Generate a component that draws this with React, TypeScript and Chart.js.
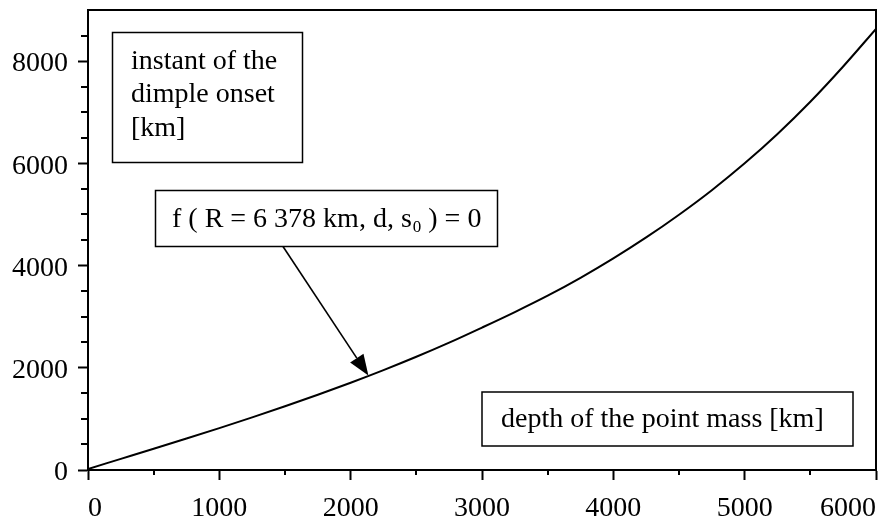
import React, { useEffect, useRef } from "react";
import { Chart, registerables } from "chart.js";

Chart.register(...registerables);

// ---- data ----
const depthKm = [0, 250, 500, 750, 1000, 1250, 1500, 1750, 2000, 2250, 2500, 2750, 3000, 3250, 3500, 3750, 4000, 4250, 4500, 4750, 5000, 5250, 5500, 5750, 6000];
const onsetKm = [20, 218, 416, 616, 820, 1030, 1247, 1472, 1707, 1954, 2215, 2492, 2787, 3090, 3410, 3760, 4140, 4550, 4995, 5475, 6000, 6575, 7205, 7895, 8630];

const xMin = 0;
const xMax = 6000;
const xStep = 500;
const xLabelEvery = 1000;
const yMin = 0;
const yMax = 9000;
const yStep = 500;
const yLabelEvery = 2000;

const yTitleLines = ["instant of the", "dimple onset", "[km]"];
const xTitle = "depth of the point mass [km]";
const curveLabelMain = "f ( R = 6 378 km, d, s";
const curveLabelSub = "0";
const curveLabelTail = " ) = 0";
const arrowTarget = { x: 2135, y: 1847 };

const FONT = "Liberation Serif, 'Times New Roman', serif";

const decorPlugin = {
  id: "decor",
  afterDraw(chart: any) {
    const { ctx, chartArea, scales } = chart;
    const xs = scales.x;
    const ys = scales.y;
    ctx.save();
    ctx.strokeStyle = "#000";
    ctx.fillStyle = "#000";

    // top and right frame
    ctx.lineWidth = 2;
    ctx.beginPath();
    ctx.moveTo(chartArea.left, chartArea.top);
    ctx.lineTo(chartArea.right, chartArea.top);
    ctx.lineTo(chartArea.right, chartArea.bottom);
    ctx.stroke();

    // minor ticks
    ctx.lineWidth = 2;
    ctx.beginPath();
    for (let v = xMin; v <= xMax; v += xStep) {
      if (v % xLabelEvery === 0) continue;
      const px = Math.round(xs.getPixelForValue(v));
      ctx.moveTo(px, chartArea.bottom);
      ctx.lineTo(px, chartArea.bottom + 5);
    }
    for (let v = yMin; v <= yMax; v += yStep) {
      if (v % yLabelEvery === 0 || v === yMax) continue;
      const py = Math.round(ys.getPixelForValue(v));
      ctx.moveTo(chartArea.left, py);
      ctx.lineTo(chartArea.left - 7, py);
    }
    ctx.stroke();

    // annotation boxes
    ctx.lineWidth = 1.5;
    ctx.strokeRect(112.5, 32.5, 190, 130);
    ctx.strokeRect(155.5, 190.5, 342, 56);
    ctx.strokeRect(482, 392, 371, 54);

    ctx.font = `28px ${FONT}`;
    ctx.textAlign = "left";
    ctx.textBaseline = "alphabetic";
    const baselines = [69, 102, 136];
    yTitleLines.forEach((t, i) => ctx.fillText(t, 131, baselines[i]));

    ctx.fillText(xTitle, 501, 427);

    let cx = 172;
    const by = 227;
    ctx.fillText(curveLabelMain, cx, by);
    cx += ctx.measureText(curveLabelMain).width;
    ctx.font = `17px ${FONT}`;
    ctx.fillText(curveLabelSub, cx + 1, by + 5);
    cx += ctx.measureText(curveLabelSub).width + 1;
    ctx.font = `28px ${FONT}`;
    ctx.fillText(curveLabelTail, cx, by);

    // arrow
    const tx = xs.getPixelForValue(arrowTarget.x);
    const ty = ys.getPixelForValue(arrowTarget.y);
    const sx = 283;
    const sy = 246.5;
    const ang = Math.atan2(ty - sy, tx - sx);
    const headLen = 21;
    const headHalf = 8;
    const bx = tx - headLen * Math.cos(ang);
    const byy = ty - headLen * Math.sin(ang);
    ctx.lineWidth = 1.6;
    ctx.beginPath();
    ctx.moveTo(sx, sy);
    ctx.lineTo(bx, byy);
    ctx.stroke();
    ctx.beginPath();
    ctx.moveTo(tx, ty);
    ctx.lineTo(bx + headHalf * Math.sin(ang), byy - headHalf * Math.cos(ang));
    ctx.lineTo(bx - headHalf * Math.sin(ang), byy + headHalf * Math.cos(ang));
    ctx.closePath();
    ctx.fill();

    ctx.restore();
  },
};

export default function App() {
  const ref = useRef<HTMLCanvasElement | null>(null);

  useEffect(() => {
    if (!ref.current) return;
    const chart = new Chart(ref.current, {
      type: "line",
      data: {
        datasets: [
          {
            data: depthKm.map((x, i) => ({ x, y: onsetKm[i] })),
            borderColor: "#000",
            borderWidth: 2,
            pointRadius: 0,
            fill: false,
            cubicInterpolationMode: "monotone",
          },
        ],
      },
      options: {
        responsive: false,
        animation: false,
        layout: { padding: { top: 10, right: 20, left: 0, bottom: 0 } },
        plugins: {
          legend: { display: false },
          tooltip: { enabled: false },
        },
        scales: {
          x: {
            type: "linear",
            min: xMin,
            max: xMax,
            border: { display: true, color: "#000", width: 2 },
            grid: {
              drawOnChartArea: false,
              drawTicks: true,
              tickLength: 10,
              tickWidth: 2,
              tickColor: (c: any) => (c.tick && c.tick.value % xLabelEvery === 0 ? "#000" : "rgba(0,0,0,0)"),
            },
            ticks: {
              stepSize: xStep,
              autoSkip: false,
              maxRotation: 0,
              align: "inner",
              padding: 12,
              color: "#000",
              font: { family: FONT, size: 28 },
              callback: (v: any) => (Number(v) % xLabelEvery === 0 ? String(v) : ""),
            },
            afterFit: (s: any) => {
              s.height = 49;
              s.paddingLeft = 0;
              s.paddingRight = 0;
            },
          },
          y: {
            type: "linear",
            min: yMin,
            max: yMax,
            border: { display: true, color: "#000", width: 2 },
            grid: {
              drawOnChartArea: false,
              drawTicks: true,
              tickLength: 10,
              tickWidth: 2,
              tickColor: (c: any) => (c.tick && c.tick.value % yLabelEvery === 0 && c.tick.value !== yMax ? "#000" : "rgba(0,0,0,0)"),
            },
            ticks: {
              stepSize: yStep,
              autoSkip: false,
              padding: 10,
              labelOffset: 3,
              color: "#000",
              font: { family: FONT, size: 28 },
              callback: (v: any) => (Number(v) % yLabelEvery === 0 && Number(v) !== yMax ? String(v) : ""),
            },
            afterFit: (s: any) => {
              s.width = 88;
              s.paddingTop = 0;
              s.paddingBottom = 0;
            },
          },
        },
      },
      plugins: [decorPlugin],
    } as any);
    return () => chart.destroy();
  }, []);

  return (
    <div style={{ position: "absolute", left: 0, top: 0, width: 896, height: 519, background: "#fff" }}>
      <canvas ref={ref} width={896} height={519} style={{ display: "block" }} />
    </div>
  );
}
